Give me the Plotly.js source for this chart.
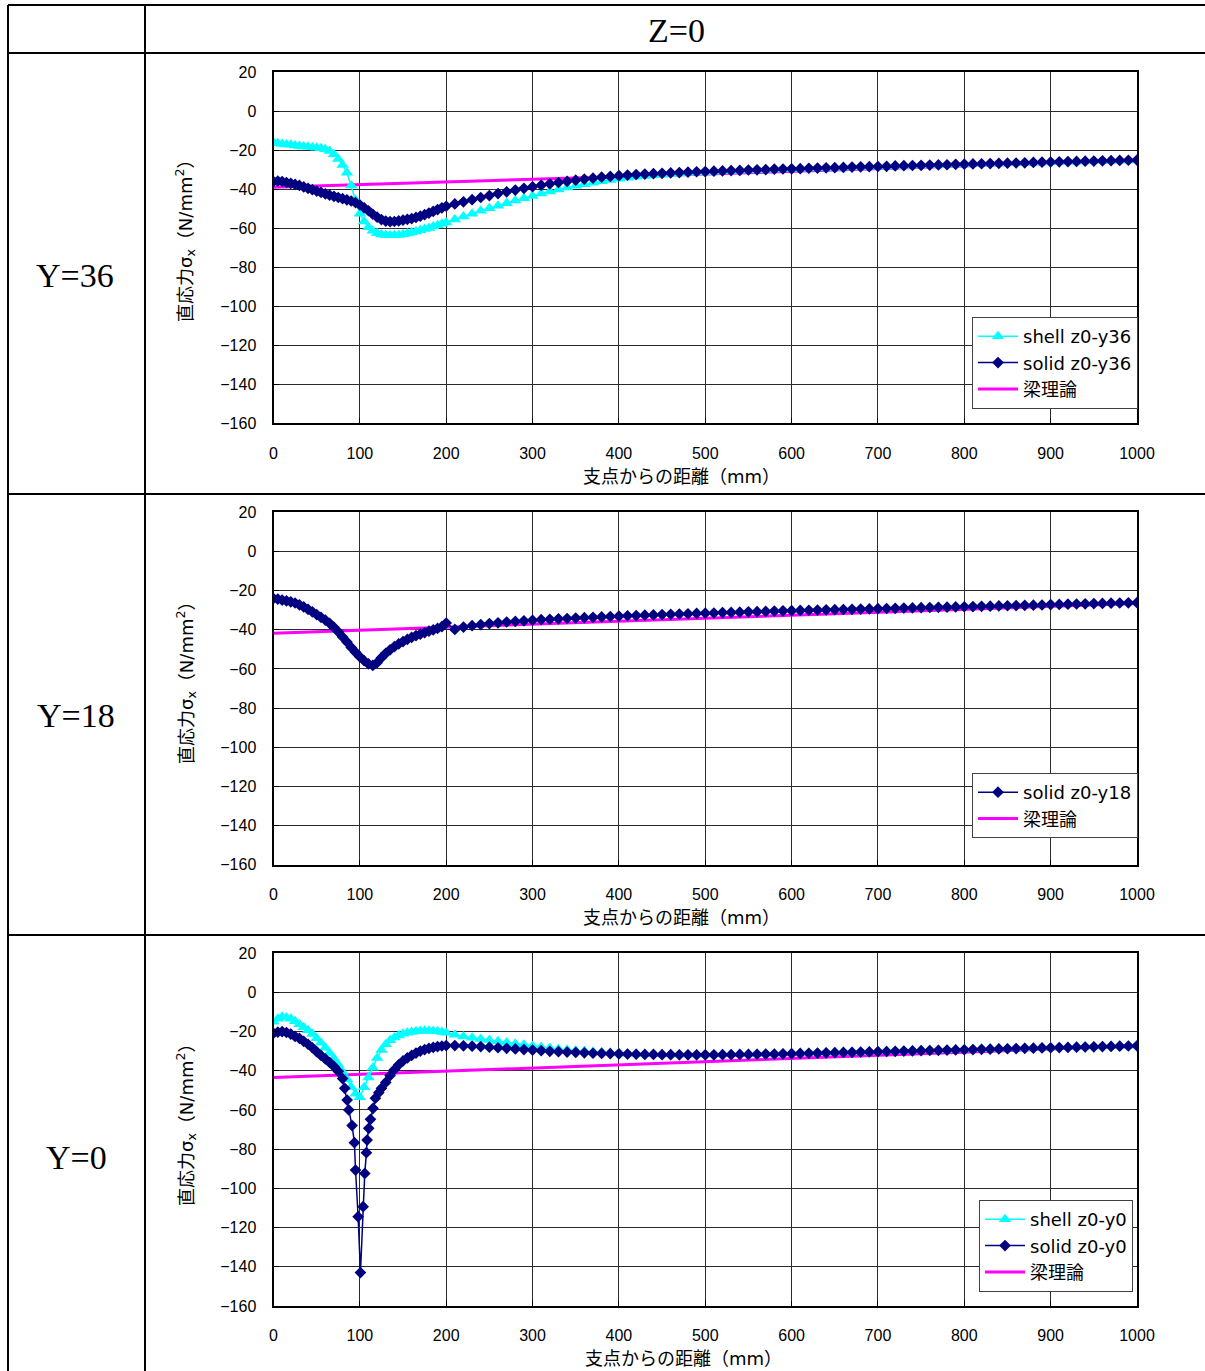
<!DOCTYPE html>
<html>
<head>
<meta charset="utf-8">
<script src="https://cdn.plot.ly/plotly-3.0.1.min.js"></script>
<style>
html,body{margin:0;padding:0;background:#fff;}
#chart{width:1205px;height:1371px;}
</style>
</head>
<body>
<div id="chart"></div>
<script>
// ---------------- DATA ----------------
const xPos = [0,5,10,15,20,25,30,35,40,45,50,55,60,65,70,75,80,85,90,95,100,105,110,115,120,125,130,135,140,145,150,155,160,165,170,175,180,185,190,195,200,
  210,220,230,240,250,260,270,280,290,300,310,320,330,340,350,360,370,380,390,400,410,420,430,440,450,460,470,480,490,500,
  510,520,530,540,550,560,570,580,590,600,610,620,630,640,650,660,670,680,690,700,710,720,730,740,750,760,770,780,790,800,
  810,820,830,840,850,860,870,880,890,900,910,920,930,940,950,960,970,980,990,1000];

const shellZ0Y36 = [-16,-16.4,-16.8,-17,-17.2,-17.5,-17.8,-18,-18.2,-18.4,-18.7,-19,-19.5,-20.3,-22,-24.5,-27.5,-31.5,-38,-45.5,
  -52.5,-56.5,-59.5,-61.3,-62.5,-63.2,-63.5,-63.6,-63.6,-63.4,-63.1,-62.7,-62.2,-61.6,-61,-60.4,-59.8,-59.1,-58.4,-57.7,-57,
  -55.5,-54,-52.5,-51,-49.7,-48.4,-47.1,-45.8,-44.6,-43.4,
  -42.2,-41.1,-40.1,-39.1,-38.2,-37.4,-36.6,-35.9,-35.2,-34.6,
  -34.1,-33.6,-33.2,-32.8,-32.5,-32.2,-31.9,-31.6,-31.4,-31.2,
  -31.0,-30.8,-30.6,-30.4,-30.3,-30.1,-30.0,-29.8,-29.7,-29.6,
  -29.5,-29.3,-29.2,-29.1,-29.0,-28.9,-28.7,-28.6,-28.5,-28.4,
  -28.3,-28.2,-28.0,-27.9,-27.8,-27.7,-27.6,-27.5,-27.3,-27.2,
  -27.1,-27.0,-26.9,-26.8,-26.7,-26.6,-26.5,-26.3,-26.2,-26.1,
  -26.0,-25.9,-25.8,-25.7,-25.6,-25.5,-25.4,-25.3,-25.2,-25.1];

const solidZ0Y36 = [-36,-35.8,-36,-36.5,-37,-37.5,-38,-38.8,-39.5,-40.2,-40.9,-41.6,-42.3,-43,-43.6,-44.2,-44.8,-45.4,-46,-46.8,
  -48,-49.5,-51,-52.8,-54.3,-55.5,-56.3,-56.6,-56.5,-56.2,-55.8,-55.4,-55,-54.4,-53.8,-53,-52.2,-51.3,-50.4,-49.5,-48.7,
  -47.5,-46.4,-45.3,-44.2,-43.2,-42.2,-41.3,-40.4,-39.5,-38.7,
  -37.9,-37.2,-36.5,-35.9,-35.3,-34.8,-34.3,-33.8,-33.4,-33.0,
  -32.7,-32.4,-32.2,-32.0,-31.8,-31.6,-31.4,-31.2,-31.0,-30.9,
  -30.7,-30.6,-30.4,-30.3,-30.1,-30.0,-29.9,-29.7,-29.6,-29.5,
  -29.4,-29.2,-29.1,-29.0,-28.9,-28.8,-28.6,-28.5,-28.4,-28.3,
  -28.2,-28.0,-27.9,-27.8,-27.7,-27.6,-27.5,-27.4,-27.2,-27.1,
  -27.0,-26.9,-26.8,-26.7,-26.6,-26.5,-26.4,-26.2,-26.1,-26.0,
  -25.9,-25.8,-25.7,-25.6,-25.5,-25.4,-25.3,-25.2,-25.1,-25.0];

const solidZ0Y18 = [-24,-24.3,-24.8,-25.2,-25.7,-26.3,-27.2,-28.3,-29.5,-30.8,-32.2,-33.6,-35,-36.7,-38.7,-41,-43.6,-46.2,-49,-51.5,
  -53.8,-55.8,-57.4,-58.2,-56.8,-54.2,-52,-50.2,-48.6,-47.2,-46,-44.9,-43.9,-43,-42.2,-41.5,-40.7,-40,-39.3,-38.4,-36.5,
  -39.8,-38.6,-37.9,-37.3,-36.8,-36.4,-36.0,-35.7,-35.4,-35.1,
  -34.8,-34.6,-34.4,-34.2,-34.0,-33.8,-33.6,-33.4,-33.2,-33.0,
  -32.8,-32.7,-32.5,-32.4,-32.2,-32.1,-31.9,-31.8,-31.6,-31.5,
  -31.4,-31.2,-31.1,-31.0,-30.8,-30.7,-30.6,-30.4,-30.3,-30.2,
  -30.1,-30.0,-29.9,-29.8,-29.7,-29.6,-29.5,-29.4,-29.3,-29.2,
  -29.1,-29.0,-28.9,-28.8,-28.7,-28.6,-28.5,-28.4,-28.3,-28.2,
  -28.1,-28.0,-27.9,-27.8,-27.7,-27.6,-27.5,-27.4,-27.3,-27.1,
  -27.0,-26.9,-26.8,-26.7,-26.6,-26.5,-26.4,-26.3,-26.2,-26.1];

const shellZ0Y0 = [-15,-13.5,-12.5,-12.8,-13.5,-14.8,-16.3,-17.8,-19.4,-21.3,-23.5,-25.8,-28.3,-31,-33.8,-37,-40.5,-44.3,-48.3,-51.8,
  -53.5,-48.5,-43.5,-38.5,-33.5,-29.5,-26.5,-24.5,-23,-22,-21.2,-20.6,-20.2,-19.9,-19.7,-19.6,-19.6,-19.7,-19.9,-20.2,-20.6,
  -21.6,-22.5,-23.2,-23.8,-24.4,-25.0,-25.6,-26.2,-26.8,-27.4,
  -27.9,-28.4,-28.9,-29.3,-29.7,-30.0,-30.3,-30.6,-30.8,-31.0,
  -31.3,-31.4,-31.5,-31.5,-31.6,-31.6,-31.7,-31.7,-31.7,-31.7,
  -31.7,-31.6,-31.6,-31.5,-31.5,-31.4,-31.3,-31.3,-31.2,-31.1,
  -31.0,-30.9,-30.8,-30.7,-30.6,-30.5,-30.4,-30.3,-30.2,-30.1,
  -30.0,-29.9,-29.8,-29.7,-29.6,-29.5,-29.4,-29.3,-29.2,-29.1,
  -29.0,-28.9,-28.8,-28.7,-28.6,-28.5,-28.4,-28.3,-28.2,-28.1,
  -28.0,-27.9,-27.8,-27.7,-27.6,-27.5,-27.4,-27.3,-27.2,-27.1];

const xSolidY0 = [0,5,10,15,20,25,30,35,40,45,50,55,60,65,70,75,80,82.5,85.3,87.2,91,93.7,95,98,100.7,103.8,105.7,107.6,108.4,110.3,112.3,115.3,118,121.9,
  125,130,135,140,145,150,155,160,165,170,175,180,185,190,195,200,
  210,220,230,240,250,260,270,280,290,300,310,320,330,340,350,360,370,380,390,400,410,420,430,440,450,460,470,480,490,500,
  510,520,530,540,550,560,570,580,590,600,610,620,630,640,650,660,670,680,690,700,710,720,730,740,750,760,770,780,790,800,
  810,820,830,840,850,860,870,880,890,900,910,920,930,940,950,960,970,980,990,1000];

const solidZ0Y0 = [-20.9,-20.3,-20.1,-20.5,-21.3,-22.5,-23.5,-25,-26.5,-28.3,-30.3,-32.2,-34,-35.8,-37.8,-40.3,-44,-49,-55,-60,-68,-76.7,-90.7,-114.5,-143,
  -109.4,-92.4,-81.8,-75.4,-69.4,-64.8,-59.2,-54,-51.2,
  -49,-46,-42.5,-39.5,-37,-35,-33.5,-32.2,-31,-30,-29.2,-28.6,-28.1,-27.7,-27.4,-27.2,
  -27.2,-27.3,-27.5,-27.7,-28.0,-28.3,-28.6,-28.9,-29.2,-29.5,
  -29.8,-30.1,-30.3,-30.5,-30.7,-30.9,-31.1,-31.2,-31.3,-31.4,
  -31.5,-31.6,-31.7,-31.7,-31.8,-31.8,-31.9,-31.9,-31.9,-31.9,
  -31.9,-31.8,-31.8,-31.7,-31.7,-31.6,-31.5,-31.5,-31.4,-31.3,
  -31.2,-31.1,-31.0,-30.9,-30.8,-30.7,-30.6,-30.5,-30.4,-30.3,
  -30.2,-30.1,-30.0,-29.9,-29.8,-29.7,-29.6,-29.5,-29.4,-29.3,
  -29.2,-29.1,-29.0,-28.9,-28.8,-28.7,-28.6,-28.5,-28.4,-28.3,
  -28.2,-28.1,-28.0,-27.9,-27.8,-27.7,-27.6,-27.5,-27.4,-27.3];

const beamX = [0, 1000];
const beamY36 = [-39, -25.3];
const beamY18 = [-41.7, -26.5];
const beamY0 = [-43.5, -27.3];

const rowLabels = ['Y=36', 'Y=18', 'Y=0'];
const headerLabel = 'Z=0';
const xTitle = '支点からの距離（mm）';
const yTitle = '直応力σ<sub>x</sub>（N/mm<sup>2</sup>）';
const nameShell36 = 'shell z0-y36', nameSolid36 = 'solid z0-y36';
const nameSolid18 = 'solid z0-y18';
const nameShell0 = 'shell z0-y0', nameSolid0 = 'solid z0-y0';
const nameBeam = '梁理論';

// ---------------- LAYOUT HELPERS ----------------
const W = 1205, H = 1371;
const px = v => v / W;
const py = v => 1 - v / H;

const CYAN = '#00FFFF', NAVY = '#000080', MAGENTA = '#FF00FF';
const TICKFONT = {family: 'Liberation Sans, Arial, sans-serif', size: 16, color: '#000'};
const JPFONT = 'DejaVu Sans, Noto Sans CJK JP, sans-serif';

function xAxis(anchor) {
  return {anchor: anchor, domain: [px(273.5), px(1137)], range: [0, 1000], dtick: 100, tick0: 0,
    showgrid: true, gridcolor: '#2a2a2a', gridwidth: 1, zeroline: false,
    showline: true, mirror: true, linecolor: '#000', linewidth: 2,
    ticks: 'inside', ticklen: 5, tickcolor: '#000', tickfont: TICKFONT,
    ticklabelstandoff: 14, automargin: false, fixedrange: true};
}
function yAxis(anchor, top, bottom) {
  return {anchor: anchor, domain: [py(bottom), py(top)], range: [-160, 20], dtick: 20, tick0: 0,
    showgrid: true, gridcolor: '#2a2a2a', gridwidth: 1, zeroline: false,
    showline: true, mirror: true, linecolor: '#000', linewidth: 2,
    ticks: 'inside', ticklen: 5, tickcolor: '#000', tickfont: TICKFONT,
    ticklabelstandoff: 12, automargin: false, fixedrange: true};
}

function beamTrace(y, xa, ya, lg) {
  return {x: beamX, y: y, xaxis: xa, yaxis: ya, legend: lg, name: nameBeam, legendrank: 3, legendgroup: lg + 'b',
    mode: 'lines', line: {color: MAGENTA, width: 3}, hoverinfo: 'skip'};
}
function shellTrace(x, y, name, xa, ya, lg) {
  return {x: x, y: y, xaxis: xa, yaxis: ya, legend: lg, name: name, legendrank: 1, legendgroup: lg + 'a',
    mode: 'lines+markers', line: {color: CYAN, width: 1.5}, marker: {symbol: 'triangle-up', size: 11, color: CYAN}};
}
function solidTrace(x, y, name, xa, ya, lg) {
  return {x: x, y: y, xaxis: xa, yaxis: ya, legend: lg, name: name, legendrank: 2, legendgroup: lg + 'c',
    mode: 'lines+markers', line: {color: NAVY, width: 1.5}, marker: {symbol: 'diamond', size: 9, color: NAVY}};
}

const traces = [
  beamTrace(beamY36, 'x', 'y', 'legend'),
  shellTrace(xPos, shellZ0Y36, nameShell36, 'x', 'y', 'legend'),
  solidTrace(xPos, solidZ0Y36, nameSolid36, 'x', 'y', 'legend'),
  beamTrace(beamY18, 'x2', 'y2', 'legend2'),
  solidTrace(xPos, solidZ0Y18, nameSolid18, 'x2', 'y2', 'legend2'),
  beamTrace(beamY0, 'x3', 'y3', 'legend3'),
  shellTrace(xPos, shellZ0Y0, nameShell0, 'x3', 'y3', 'legend3'),
  solidTrace(xSolidY0, solidZ0Y0, nameSolid0, 'x3', 'y3', 'legend3')
];

function legendAt(right, top) {
  return {x: px(right), xanchor: 'right', y: py(top), yanchor: 'top',
    bgcolor: '#fff', bordercolor: '#404040', borderwidth: 1,
    font: {family: JPFONT, size: 18, color: '#000'}, tracegroupgap: 0, itemwidth: 40};
}

// table lines
const lineStyle = {color: '#000', width: 2};
const shapes = [
  {type: 'line', xref: 'paper', yref: 'paper', x0: px(8), x1: px(1205), y0: py(5), y1: py(5), line: lineStyle},
  {type: 'line', xref: 'paper', yref: 'paper', x0: px(8), x1: px(8), y0: py(5), y1: py(1371), line: lineStyle},
  {type: 'line', xref: 'paper', yref: 'paper', x0: px(145), x1: px(145), y0: py(5), y1: py(1371), line: lineStyle},
  {type: 'line', xref: 'paper', yref: 'paper', x0: px(8), x1: px(1205), y0: py(53), y1: py(53), line: lineStyle},
  {type: 'line', xref: 'paper', yref: 'paper', x0: px(8), x1: px(1205), y0: py(494), y1: py(494), line: lineStyle},
  {type: 'line', xref: 'paper', yref: 'paper', x0: px(8), x1: px(1205), y0: py(935), y1: py(935), line: lineStyle}
];

const SERIF = {family: 'Liberation Serif, Times New Roman, serif', size: 34, color: '#000'};
function ann(text, x, y, font, angle) {
  return {text: text, xref: 'paper', yref: 'paper', x: px(x), y: py(y), xanchor: 'center', yanchor: 'middle',
    showarrow: false, font: font, textangle: angle || 0};
}
const TITLEFONT = {family: JPFONT, size: 18, color: '#000'};
const annotations = [
  ann(headerLabel, 676, 31, SERIF),
  ann(rowLabels[0], 75, 275, SERIF),
  ann(rowLabels[1], 76, 715, SERIF),
  ann(rowLabels[2], 76, 1157, SERIF),
  ann(yTitle, 185, 236, TITLEFONT, -90),
  ann(yTitle, 186, 678, TITLEFONT, -90),
  ann(yTitle, 186, 1120, TITLEFONT, -90),
  ann(xTitle, 681, 476, TITLEFONT),
  ann(xTitle, 681, 917, TITLEFONT),
  ann(xTitle, 683, 1358, TITLEFONT)
];

const layout = {
  width: W, height: H, margin: {l: 0, r: 0, t: 0, b: 0},
  paper_bgcolor: '#fff', plot_bgcolor: '#fff', showlegend: true,
  xaxis: xAxis('y'), yaxis: yAxis('x', 72.3, 423.3),
  xaxis2: xAxis('y2'), yaxis2: yAxis('x2', 512.4, 864.7),
  xaxis3: xAxis('y3'), yaxis3: yAxis('x3', 953.1, 1305.9),
  legend: legendAt(1138, 317),
  legend2: legendAt(1138, 773),
  legend3: legendAt(1133, 1200),
  shapes: shapes, annotations: annotations
};

Plotly.newPlot('chart', traces, layout, {staticPlot: true, displayModeBar: false});
</script>
</body>
</html>
